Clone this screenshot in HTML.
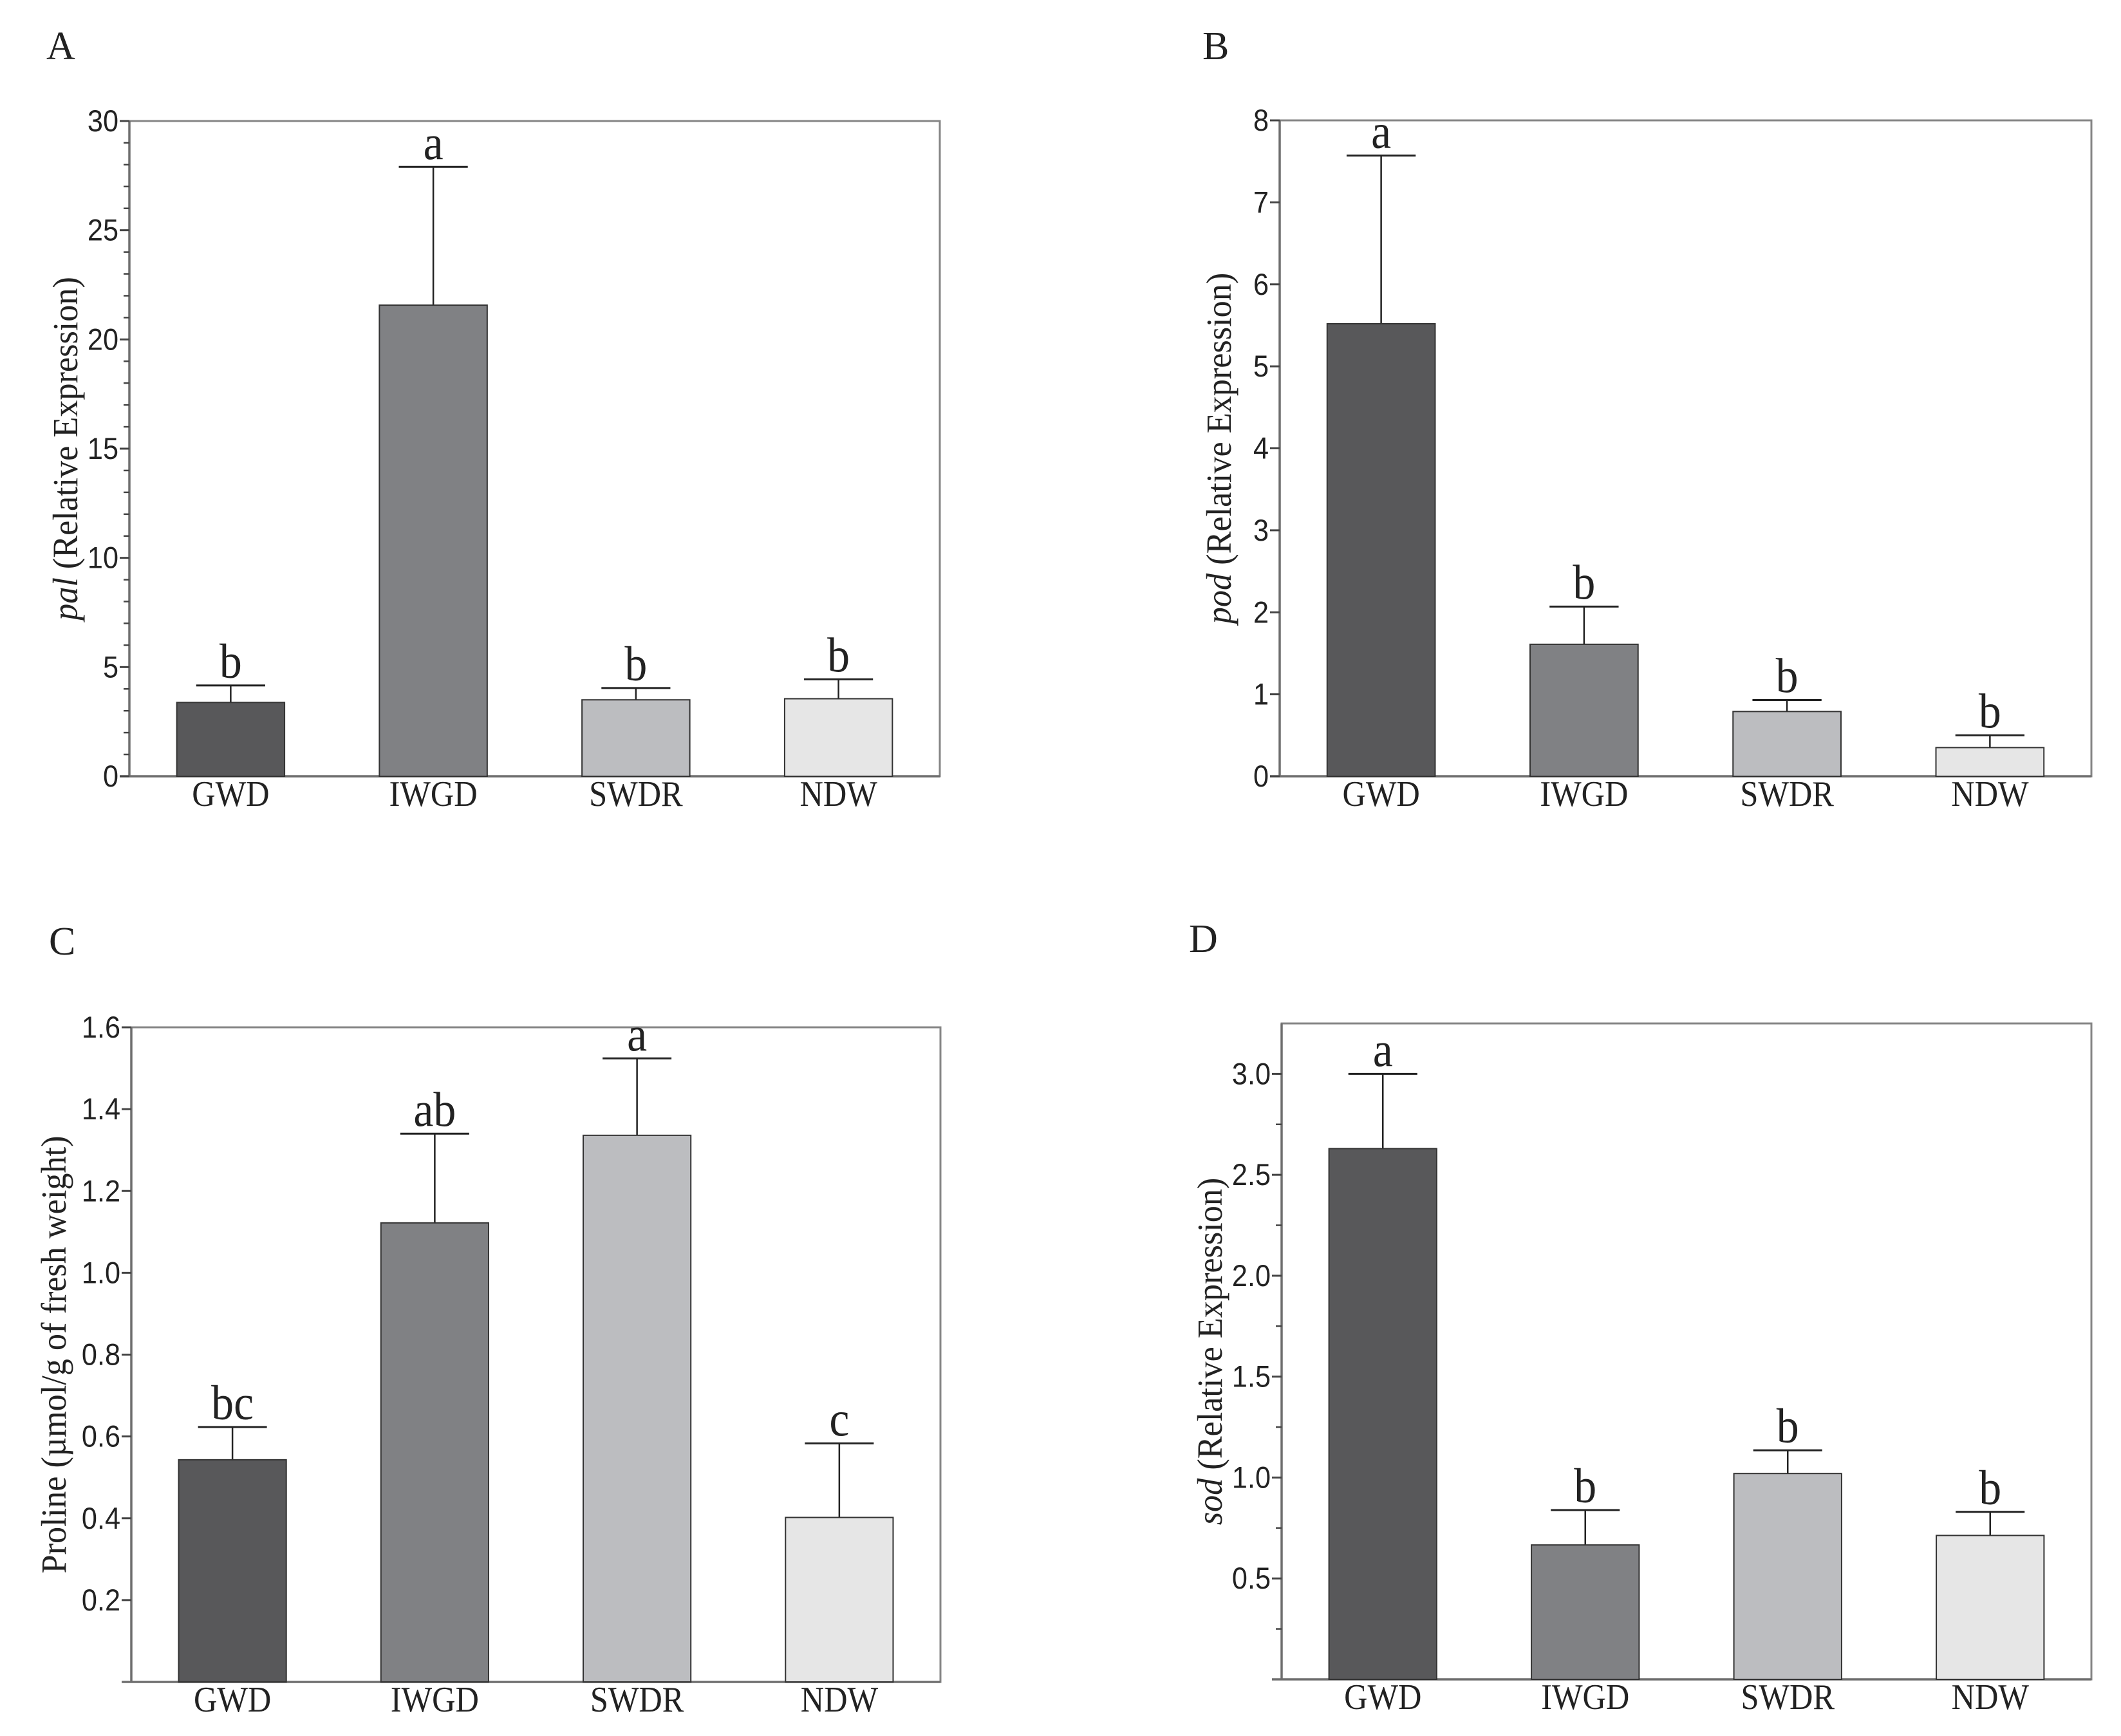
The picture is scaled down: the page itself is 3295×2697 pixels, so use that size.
<!DOCTYPE html>
<html><head><meta charset="utf-8"><style>
html,body{margin:0;padding:0;background:#fff;}
svg{display:block;}
</style></head><body>
<svg id="fig" width="3295" height="2697" viewBox="0 0 3295 2697" xmlns="http://www.w3.org/2000/svg">
<rect width="3295" height="2697" fill="#fff"/>
</svg>
<script>
const categories = ["GWD","IWGD","SWDR","NDW"];
const barColors = ["#58585a","#808184","#bcbdc0","#e6e6e6"];
const palMeans = [3.38, 21.57, 3.5, 3.55];
const palErr = [4.16, 27.9, 4.04, 4.44];
const palLetters = ["b","a","b","b"];
const podMeans = [5.52, 1.61, 0.79, 0.35];
const podErr = [7.57, 2.07, 0.93, 0.50];
const podLetters = ["a","b","b","b"];
const prolineMeans = [0.543, 1.122, 1.336, 0.402];
const prolineErr = [0.623, 1.340, 1.524, 0.583];
const prolineLetters = ["bc","ab","a","c"];
const sodMeans = [2.63, 0.666, 1.02, 0.713];
const sodErr = [3.0, 0.839, 1.135, 0.83];
const sodLetters = ["a","b","b","b"];
const palTicks = ["0","5","10","15","20","25","30"];
const podTicks = ["0","1","2","3","4","5","6","7","8"];
const prolineTicks = ["0.2","0.4","0.6","0.8","1.0","1.2","1.4","1.6"];
const sodTicks = ["0.5","1.0","1.5","2.0","2.5","3.0"];

const NS="http://www.w3.org/2000/svg";
const svg=document.getElementById('fig');
function mk(tag,attrs,parent){const e=document.createElementNS(NS,tag);for(const k in attrs)e.setAttribute(k,attrs[k]);(parent||svg).appendChild(e);return e;}

function panel(o){
  const g=mk('g',{});
  
  
  const L=o.x0,R=o.x1,T=o.y0,B=o.y1,W=R-L;
  const y=v=>B-(v-0)/(o.max)*(B-T);
  const x=i=>L+W*(2*i+1)/8;
  const pl=mk('text',{x:o.lx,y:o.ly,'font-family':'Liberation Serif, serif','font-size':62,fill:'#222'},g);
  pl.textContent=o.letter;
  
  
  const fr=mk('rect',{x:L,y:T,width:W,height:B-T,fill:'none',stroke:'#858585','stroke-width':3},g);
  
  
  mk('line',{x1:L-15,y1:B,x2:R,y2:B,stroke:'#6e6e6e','stroke-width':3.5},g);
  mk('line',{x1:L,y1:T,x2:L,y2:B,stroke:'#6e6e6e','stroke-width':3.5},g);
  if(o.minor){for(let v=o.minor;v<o.max-1e-9;v+=o.minor){mk('line',{x1:L-9,y1:y(v),x2:L,y2:y(v),stroke:'#444','stroke-width':2.5},g);}}
  o.ticks.forEach(t=>{const v=parseFloat(t);
    mk('line',{x1:L-15,y1:y(v),x2:L,y2:y(v),stroke:'#444','stroke-width':3},g);
    const tx=mk('text',{transform:`translate(${L-17},${y(v)+16}) scale(0.92,1)`,'text-anchor':'end','font-family':'Liberation Sans, sans-serif','font-size':47,fill:'#222'},g);
    tx.textContent=t;
    
    
  });
  const yt=mk('text',{transform:`translate(${o.tx},${(T+B)/2}) rotate(-90) scale(0.95,1)`,'text-anchor':'middle','font-family':'Liberation Serif, serif','font-size':55,fill:'#222'},g);
  if(o.italic){const s=mk('tspan',{'font-style':'italic'},yt);s.textContent=o.italic;const s2=mk('tspan',{},yt);s2.textContent=o.title;}
  else yt.textContent=o.title;
  
  
  const bw=W*0.133, cw=bw*0.64;
  o.means.forEach((m,i)=>{
    const cx=x(i);
    const e=o.err[i];
    const el=mk('line',{x1:cx,y1:y(m),x2:cx,y2:y(e),stroke:'#222','stroke-width':2.5},g);
    
    
    mk('line',{x1:cx-cw/2,y1:y(e),x2:cx+cw/2,y2:y(e),stroke:'#222','stroke-width':3},g);
    const r=mk('rect',{x:cx-bw/2,y:y(m),width:bw,height:B-y(m),fill:barColors[i],stroke:'#333','stroke-width':2},g);
    
    
    const lt=mk('text',{transform:`translate(${cx},${y(e)-12}) scale(0.92,1)`,'text-anchor':'middle','font-family':'Liberation Serif, serif','font-size':76,fill:'#222'},g);
    lt.textContent=o.letters[i];
    
    
    const ct=mk('text',{transform:`translate(${cx},${B+46}) scale(0.9,1)`,'text-anchor':'middle','font-family':'Liberation Serif, serif','font-size':56,fill:'#222'},g);
    ct.textContent=categories[i];
    
    
  });
}
panel({id:'pal',letter:'A',lx:72,ly:92,x0:201,x1:1460,y0:188,y1:1206,max:30,minor:1,ticks:palTicks,means:palMeans,err:palErr,letters:palLetters,tx:120,italic:'pal',title:' (Relative Expression)'});
panel({id:'pod',letter:'B',lx:1868,ly:92,x0:1988,x1:3249,y0:187,y1:1206,max:8,minor:0,ticks:podTicks,means:podMeans,err:podErr,letters:podLetters,tx:1912,italic:'pod',title:' (Relative Expression)'});
panel({id:'proline',letter:'C',lx:76,ly:1483,x0:204,x1:1461,y0:1596,y1:2613,max:1.6,minor:0,ticks:prolineTicks,means:prolineMeans,err:prolineErr,letters:prolineLetters,tx:102,title:'Proline (µmol/g of fresh weight)'});
panel({id:'sod',letter:'D',lx:1847,ly:1479,x0:1991,x1:3249,y0:1590,y1:2609,max:3.25,minor:0.25,ticks:sodTicks,means:sodMeans,err:sodErr,letters:sodLetters,tx:1898,italic:'sod',title:' (Relative Expression)'});
</script>
</body></html>
